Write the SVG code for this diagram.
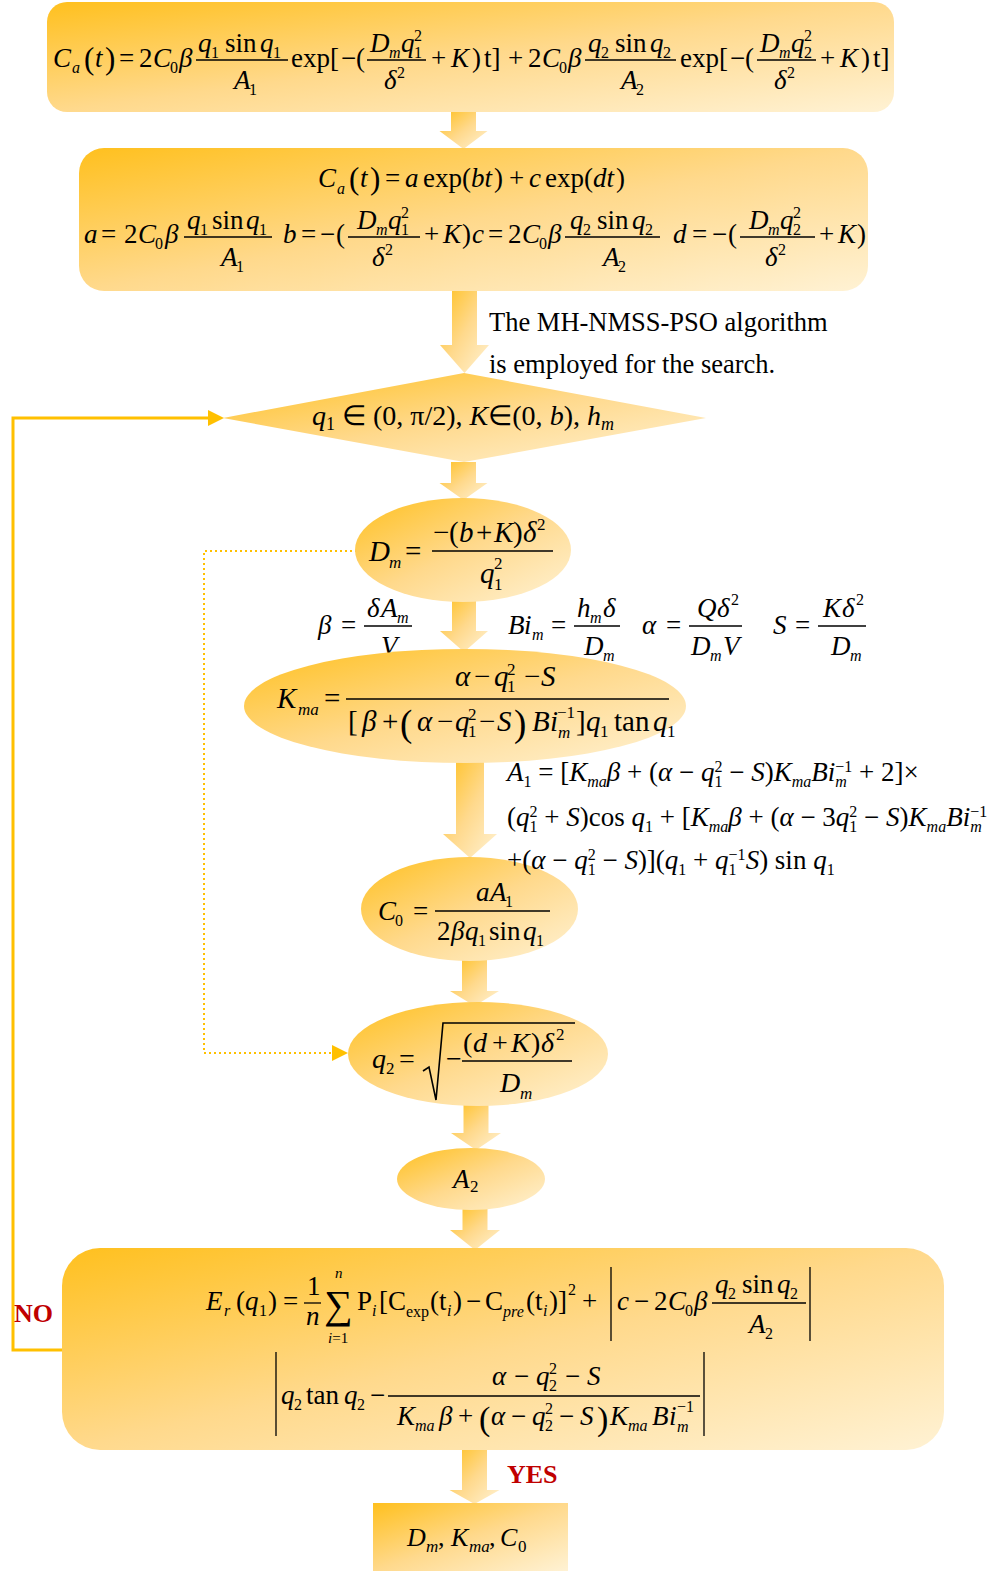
<svg xmlns="http://www.w3.org/2000/svg" width="1000" height="1571" viewBox="0 0 1000 1571">
<defs>
<linearGradient id="g" x1="0" y1="0" x2="1" y2="1">
<stop offset="0" stop-color="#FFC01E"/>
<stop offset="0.5" stop-color="#FFD98C"/>
<stop offset="1" stop-color="#FFF2D4"/>
</linearGradient>
<style>
.m{font-family:"Liberation Serif","Times New Roman",serif;font-size:27px;fill:#000;white-space:pre}
.k{font-size:28px}
.l{font-size:29px}
.s{font-size:16px}
.ls{font-size:17px}
.i{font-style:italic}
.bar{stroke:#000;stroke-width:1.3;fill:none}
.node{fill:url(#g)}
.arr{fill:url(#g)}
.lbl{font-family:"Liberation Serif","Times New Roman",serif;font-weight:bold;fill:#C00000;font-size:26px}
</style>
</defs>
<rect width="1000" height="1571" fill="#FFFFFF"/>

<g id="connectors">
<path class="arr" d="M451,112 H476 V131 H487.5 L463.5,149 L439.5,131 H451 Z"/>
<path class="arr" d="M452,291 H477 V345 H489 L464.5,373 L440,345 H452 Z"/>
<path class="arr" d="M451,462 H476 V483 H487.5 L463.5,500 L439.5,483 H451 Z"/>
<path class="arr" d="M452,600 H476 V631 H488 L464,652 L440,631 H452 Z"/>
<path class="arr" d="M456,762 H484 V834 H497 L470,858 L443,834 H456 Z"/>
<path class="arr" d="M462,960 H487 V991 H499 L474.5,1006 L450,991 H462 Z"/>
<path class="arr" d="M463.5,1105 H488.5 V1133 H501 L476,1150 L451,1133 H463.5 Z"/>
<path class="arr" d="M462.5,1209 H487.5 V1230 H500 L475,1250 L450,1230 H462.5 Z"/>
<path class="arr" d="M462,1449 H487 V1490 H499.5 L474.5,1504 L449.5,1490 H462 Z"/>
<path d="M62,1350 H13 V418 H210" fill="none" stroke="#FFC000" stroke-width="3"/>
<path d="M208,410 L224,418 L208,426 Z" fill="#FFC000"/>
<path d="M357,551 H204 V1053 H333" fill="none" stroke="#FFC000" stroke-width="2" stroke-dasharray="2,3"/>
<path d="M332,1045 L348,1053 L332,1061 Z" fill="#FFC000"/>
</g>

<g id="params">
<text class="m i" x="318" y="634">β</text>
<text class="m" x="341" y="634">=</text>
<line class="bar" x1="364" y1="626" x2="412" y2="626"/>
<text class="m i" x="367" y="617">δ</text>
<text class="m i" x="381" y="617">A</text>
<text class="m s i" x="397" y="623">m</text>
<text class="m i" x="381" y="655">V</text>
<text class="m i" x="508" y="634">B</text>
<text class="m i" x="524" y="634">i</text>
<text class="m s i" x="532" y="640">m</text>
<text class="m" x="551" y="634">=</text>
<line class="bar" x1="574" y1="626" x2="620" y2="626"/>
<text class="m i" x="577" y="617">h</text>
<text class="m s i" x="590" y="623">m</text>
<text class="m i" x="603" y="617">δ</text>
<text class="m i" x="584" y="655">D</text>
<text class="m s i" x="603" y="661">m</text>
<text class="m i" x="642" y="634">α</text>
<text class="m" x="666" y="634">=</text>
<line class="bar" x1="689" y1="626" x2="742" y2="626"/>
<text class="m i" x="697" y="617">Q</text>
<text class="m i" x="717" y="617">δ</text>
<text class="m s" x="731" y="605">2</text>
<text class="m i" x="691" y="655">D</text>
<text class="m s i" x="710" y="661">m</text>
<text class="m i" x="723" y="655">V</text>
<text class="m i" x="773" y="634">S</text>
<text class="m" x="795" y="634">=</text>
<line class="bar" x1="818" y1="626" x2="866" y2="626"/>
<text class="m i" x="823" y="617">K</text>
<text class="m i" x="842" y="617">δ</text>
<text class="m s" x="856" y="605">2</text>
<text class="m i" x="831" y="655">D</text>
<text class="m s i" x="850" y="661">m</text>
</g>

<g id="n1">
<rect class="node" x="47" y="2" width="847" height="110" rx="20"/>
<text class="m i" x="53" y="67">C</text>
<text class="m s i" x="72" y="73">a</text>
<text class="m" x="84" y="69" style="font-size:31px">(</text>
<text class="m i" x="95" y="67">t</text>
<text class="m" x="105" y="69" style="font-size:31px">)</text>
<text class="m" x="119" y="67">=</text>
<text class="m" x="139" y="67">2</text>
<text class="m i" x="153" y="67">C</text>
<text class="m s" x="170" y="73">0</text>
<text class="m i" x="179" y="67">β</text>
<line class="bar" x1="196" y1="60" x2="288" y2="60"/>
<text class="m i" x="198" y="52">q</text>
<text class="m s" x="211" y="58">1</text>
<text class="m" x="225" y="52">sin</text>
<text class="m i" x="260" y="52">q</text>
<text class="m s" x="273" y="58">1</text>
<text class="m i" x="234" y="89">A</text>
<text class="m s" x="249" y="95">1</text>
<text class="m" x="291" y="67">exp[</text>
<text class="m" x="341" y="67">−</text>
<text class="m" x="356" y="67">(</text>
<line class="bar" x1="367" y1="60" x2="426" y2="60"/>
<text class="m i" x="370" y="52">D</text>
<text class="m s i" x="389" y="58">m</text>
<text class="m i" x="401" y="52">q</text>
<text class="m s" x="414" y="58">1</text>
<text class="m s" x="414" y="41">2</text>
<text class="m i" x="384" y="89">δ</text>
<text class="m s" x="397" y="78">2</text>
<text class="m" x="431" y="67">+</text>
<text class="m i" x="451" y="67">K</text>
<text class="m" x="472" y="67">)</text>
<text class="m" x="484" y="67">t]</text>
<text class="m" x="508" y="67">+</text>
<text class="m" x="528" y="67">2</text>
<text class="m i" x="542" y="67">C</text>
<text class="m s" x="559" y="73">0</text>
<text class="m i" x="568" y="67">β</text>
<line class="bar" x1="585" y1="60" x2="676" y2="60"/>
<text class="m i" x="588" y="52">q</text>
<text class="m s" x="601" y="58">2</text>
<text class="m" x="615" y="52">sin</text>
<text class="m i" x="650" y="52">q</text>
<text class="m s" x="663" y="58">2</text>
<text class="m i" x="621" y="89">A</text>
<text class="m s" x="636" y="95">2</text>
<text class="m" x="680" y="67">exp[</text>
<text class="m" x="730" y="67">−</text>
<text class="m" x="745" y="67">(</text>
<line class="bar" x1="757" y1="60" x2="816" y2="60"/>
<text class="m i" x="760" y="52">D</text>
<text class="m s i" x="779" y="58">m</text>
<text class="m i" x="791" y="52">q</text>
<text class="m s" x="804" y="58">2</text>
<text class="m s" x="804" y="41">2</text>
<text class="m i" x="774" y="89">δ</text>
<text class="m s" x="787" y="78">2</text>
<text class="m" x="820" y="67">+</text>
<text class="m i" x="840" y="67">K</text>
<text class="m" x="861" y="67">)</text>
<text class="m" x="873" y="67">t]</text>
</g>

<g id="n2">
<rect class="node" x="79" y="148" width="789" height="143" rx="25"/>
<text class="m i" x="318" y="187">C</text>
<text class="m s i" x="337" y="194">a</text>
<text class="m" x="349" y="189" style="font-size:31px">(</text>
<text class="m i" x="360" y="187">t</text>
<text class="m" x="370" y="189" style="font-size:31px">)</text>
<text class="m" x="385" y="187">=</text>
<text class="m i" x="405" y="187">a</text>
<text class="m" x="423" y="187">exp(</text>
<text class="m i" x="471" y="187">bt</text>
<text class="m" x="494" y="187">)</text>
<text class="m" x="509" y="187">+</text>
<text class="m i" x="529" y="187">c</text>
<text class="m" x="545" y="187">exp(</text>
<text class="m i" x="593" y="187">dt</text>
<text class="m" x="616" y="187">)</text>
<text class="m i" x="84" y="243">a</text>
<text class="m" x="101" y="243">=</text>
<text class="m" x="124" y="243">2</text>
<text class="m i" x="138" y="243">C</text>
<text class="m s" x="155" y="249">0</text>
<text class="m i" x="165" y="243">β</text>
<line class="bar" x1="184" y1="237" x2="272" y2="237"/>
<text class="m i" x="187" y="229">q</text>
<text class="m s" x="200" y="235">1</text>
<text class="m" x="212" y="229">sin</text>
<text class="m i" x="246" y="229">q</text>
<text class="m s" x="259" y="235">1</text>
<text class="m i" x="221" y="266">A</text>
<text class="m s" x="236" y="272">1</text>
<text class="m i" x="283" y="243">b</text>
<text class="m" x="301" y="243">=</text>
<text class="m" x="320" y="243">−</text>
<text class="m" x="336" y="243">(</text>
<line class="bar" x1="348" y1="237" x2="420" y2="237"/>
<text class="m i" x="357" y="229">D</text>
<text class="m s i" x="376" y="235">m</text>
<text class="m i" x="388" y="229">q</text>
<text class="m s" x="401" y="235">1</text>
<text class="m s" x="401" y="218">2</text>
<text class="m i" x="372" y="266">δ</text>
<text class="m s" x="385" y="255">2</text>
<text class="m" x="424" y="243">+</text>
<text class="m i" x="443" y="243">K</text>
<text class="m" x="462" y="243">)</text>
<text class="m i" x="472" y="243">c</text>
<text class="m" x="488" y="243">=</text>
<text class="m" x="508" y="243">2</text>
<text class="m i" x="522" y="243">C</text>
<text class="m s" x="539" y="249">0</text>
<text class="m i" x="548" y="243">β</text>
<line class="bar" x1="565" y1="237" x2="660" y2="237"/>
<text class="m i" x="570" y="229">q</text>
<text class="m s" x="583" y="235">2</text>
<text class="m" x="597" y="229">sin</text>
<text class="m i" x="632" y="229">q</text>
<text class="m s" x="645" y="235">2</text>
<text class="m i" x="603" y="266">A</text>
<text class="m s" x="618" y="272">2</text>
<text class="m i" x="673" y="243">d</text>
<text class="m" x="692" y="243">=</text>
<text class="m" x="712" y="243">−</text>
<text class="m" x="728" y="243">(</text>
<line class="bar" x1="740" y1="237" x2="815" y2="237"/>
<text class="m i" x="749" y="229">D</text>
<text class="m s i" x="768" y="235">m</text>
<text class="m i" x="780" y="229">q</text>
<text class="m s" x="793" y="235">2</text>
<text class="m s" x="793" y="218">2</text>
<text class="m i" x="765" y="266">δ</text>
<text class="m s" x="778" y="255">2</text>
<text class="m" x="819" y="243">+</text>
<text class="m i" x="838" y="243">K</text>
<text class="m" x="857" y="243">)</text>
</g>

<g id="n3">
<path class="node" d="M464,373 L706,418 L464,462 L223,418 Z"/>
<text class="m" x="463" y="425" text-anchor="middle" style="font-size:28px"><tspan class="i">q</tspan><tspan style="font-size:18px" dy="5">1</tspan><tspan dy="-5"> ∈ (0, π/2), </tspan><tspan class="i">K</tspan><tspan>∈(0, </tspan><tspan class="i">b</tspan><tspan>), </tspan><tspan class="i">h</tspan><tspan class="i" style="font-size:18px" dy="5">m</tspan></text>
</g>

<g id="n4">
<ellipse class="node" cx="463" cy="550" rx="108" ry="52"/>
<text class="m l i" x="369" y="561">D</text>
<text class="m ls i" x="389" y="568">m</text>
<text class="m l" x="405" y="561">=</text>
<line class="bar" x1="432" y1="551" x2="553" y2="551"/>
<text class="m l" x="433" y="542">−</text>
<text class="m l" x="449" y="542">(</text>
<text class="m l i" x="459" y="542">b</text>
<text class="m l" x="476" y="542">+</text>
<text class="m l i" x="494" y="542">K</text>
<text class="m l" x="513" y="542">)</text>
<text class="m l i" x="523" y="542">δ</text>
<text class="m ls" x="537" y="530">2</text>
<text class="m l i" x="480" y="583">q</text>
<text class="m ls" x="494" y="590">1</text>
<text class="m ls" x="494" y="569">2</text>
</g>

<g id="n5">
<ellipse class="node" cx="465" cy="706" rx="221" ry="57"/>
<text class="m l i" x="277" y="708">K</text>
<text class="m ls i" x="298" y="715">ma</text>
<text class="m l" x="324" y="708">=</text>
<line class="bar" x1="346" y1="699" x2="669" y2="699"/>
<text class="m l i" x="455" y="686">α</text>
<text class="m l" x="474" y="686">−</text>
<text class="m l i" x="494" y="686">q</text>
<text class="m ls" x="507" y="692">1</text>
<text class="m ls" x="507" y="675">2</text>
<text class="m l" x="524" y="686">−</text>
<text class="m l i" x="541" y="686">S</text>
<text class="m l" x="348" y="731">[</text>
<text class="m l i" x="362" y="731">β</text>
<text class="m l" x="382" y="731">+</text>
<text class="m l" x="400" y="736" style="font-size:37px">(</text>
<text class="m l i" x="417" y="731">α</text>
<text class="m l" x="437" y="731">−</text>
<text class="m l i" x="455" y="731">q</text>
<text class="m ls" x="468" y="737">1</text>
<text class="m ls" x="468" y="720">2</text>
<text class="m l" x="479" y="731">−</text>
<text class="m l i" x="497" y="731">S</text>
<text class="m l" x="514" y="736" style="font-size:37px">)</text>
<text class="m l i" x="532" y="731">B</text>
<text class="m l i" x="550" y="731">i</text>
<text class="m ls" x="557" y="718">−1</text>
<text class="m ls i" x="558" y="738">m</text>
<text class="m l" x="576" y="731">]</text>
<text class="m l i" x="586" y="731">q</text>
<text class="m ls" x="600" y="737">1</text>
<text class="m l" x="614" y="731">tan</text>
<text class="m l i" x="653" y="731">q</text>
<text class="m ls" x="667" y="737">1</text>
</g>

<g id="n6">
<ellipse class="node" cx="469.5" cy="909" rx="108.5" ry="52"/>
<text class="m i" x="378" y="920">C</text>
<text class="m s" x="395" y="926">0</text>
<text class="m" x="413" y="920">=</text>
<line class="bar" x1="435" y1="911" x2="550" y2="911"/>
<text class="m i" x="476" y="901">a</text>
<text class="m i" x="490" y="901">A</text>
<text class="m s" x="505" y="907">1</text>
<text class="m" x="437" y="940">2</text>
<text class="m i" x="451" y="940">β</text>
<text class="m i" x="465" y="940">q</text>
<text class="m s" x="478" y="946">1</text>
<text class="m" x="489" y="940">sin</text>
<text class="m i" x="523" y="940">q</text>
<text class="m s" x="536" y="946">1</text>
</g>

<g id="n7">
<ellipse class="node" cx="478" cy="1054" rx="130" ry="52"/>
<text class="m k i" x="372" y="1068">q</text>
<text class="m ls" x="386" y="1074">2</text>
<text class="m k" x="399" y="1068">=</text>
<path d="M423,1071 L429,1067 L436,1100 L443,1023 H575" fill="none" stroke="#000" stroke-width="1.6"/>
<text class="m k" x="446" y="1068">−</text>
<line class="bar" x1="462" y1="1061" x2="572" y2="1061"/>
<text class="m k" x="463" y="1052">(</text>
<text class="m k i" x="473" y="1052">d</text>
<text class="m k" x="492" y="1052">+</text>
<text class="m k i" x="511" y="1052">K</text>
<text class="m k" x="531" y="1052">)</text>
<text class="m k i" x="541" y="1052">δ</text>
<text class="m ls" x="556" y="1040">2</text>
<text class="m k i" x="500" y="1092">D</text>
<text class="m ls i" x="520" y="1099">m</text>
</g>

<g id="n8">
<ellipse class="node" cx="471" cy="1179" rx="74" ry="31"/>
<text class="m i" x="453" y="1188">A</text>
<text class="m ls" x="470" y="1192">2</text>
</g>

<g id="n9">
<rect class="node" x="62" y="1248" width="882" height="202" rx="38"/>
<text class="m i" x="206" y="1310">E</text>
<text class="m s i" x="224" y="1316">r</text>
<text class="m" x="236" y="1310">(</text>
<text class="m i" x="245" y="1310">q</text>
<text class="m s" x="259" y="1316">1</text>
<text class="m" x="268" y="1310">)</text>
<text class="m" x="283" y="1310">=</text>
<line class="bar" x1="304" y1="1303" x2="321" y2="1303"/>
<text class="m" x="307" y="1295">1</text>
<text class="m i" x="306" y="1325">n</text>
<text class="m" x="324" y="1318" style="font-size:40px">∑</text>
<text class="m i" x="335" y="1278" style="font-size:15px">n</text>
<text class="m" x="328" y="1343" style="font-size:15px"><tspan class="i">i</tspan>=1</text>
<text class="m" x="357" y="1310">P</text>
<text class="m s i" x="372" y="1316">i</text>
<text class="m" x="379" y="1310">[C</text>
<text class="m s" x="406" y="1317">exp</text>
<text class="m" x="430" y="1310">(t</text>
<text class="m s i" x="447" y="1316">i</text>
<text class="m" x="453" y="1310">)</text>
<text class="m" x="466" y="1310">−</text>
<text class="m" x="485" y="1310">C</text>
<text class="m s i" x="503" y="1317">pre</text>
<text class="m" x="526" y="1310">(t</text>
<text class="m s i" x="543" y="1316">i</text>
<text class="m" x="549" y="1310">)]</text>
<text class="m s" x="568" y="1295">2</text>
<text class="m" x="582" y="1310">+</text>
<line class="bar" x1="611" y1="1267" x2="611" y2="1341"/>
<text class="m i" x="617" y="1310">c</text>
<text class="m" x="634" y="1310">−</text>
<text class="m" x="654" y="1310">2</text>
<text class="m i" x="668" y="1310">C</text>
<text class="m s" x="685" y="1316">0</text>
<text class="m i" x="694" y="1310">β</text>
<line class="bar" x1="712" y1="1303" x2="806" y2="1303"/>
<text class="m i" x="715" y="1293">q</text>
<text class="m s" x="728" y="1299">2</text>
<text class="m" x="742" y="1293">sin</text>
<text class="m i" x="777" y="1293">q</text>
<text class="m s" x="790" y="1299">2</text>
<text class="m i" x="749" y="1333">A</text>
<text class="m s" x="765" y="1339">2</text>
<line class="bar" x1="810" y1="1267" x2="810" y2="1341"/>
<line class="bar" x1="276" y1="1352" x2="276" y2="1436"/>
<text class="m i" x="281" y="1404">q</text>
<text class="m s" x="294" y="1410">2</text>
<text class="m" x="306" y="1404">tan</text>
<text class="m i" x="344" y="1404">q</text>
<text class="m s" x="357" y="1410">2</text>
<text class="m" x="370" y="1404">−</text>
<line class="bar" x1="388" y1="1396" x2="700" y2="1396"/>
<text class="m i" x="492" y="1385">α</text>
<text class="m" x="514" y="1385">−</text>
<text class="m i" x="536" y="1385">q</text>
<text class="m s" x="549" y="1391">2</text>
<text class="m s" x="549" y="1374">2</text>
<text class="m" x="565" y="1385">−</text>
<text class="m i" x="587" y="1385">S</text>
<text class="m i" x="397" y="1425">K</text>
<text class="m s i" x="415" y="1431">ma</text>
<text class="m i" x="439" y="1425">β</text>
<text class="m" x="458" y="1425">+</text>
<text class="m" x="479" y="1430" style="font-size:34px">(</text>
<text class="m i" x="491" y="1425">α</text>
<text class="m" x="511" y="1425">−</text>
<text class="m i" x="532" y="1425">q</text>
<text class="m s" x="545" y="1431">2</text>
<text class="m s" x="545" y="1414">2</text>
<text class="m" x="559" y="1425">−</text>
<text class="m i" x="580" y="1425">S</text>
<text class="m" x="597" y="1430" style="font-size:34px">)</text>
<text class="m i" x="610" y="1425">K</text>
<text class="m s i" x="628" y="1431">ma</text>
<text class="m i" x="652" y="1425">B</text>
<text class="m i" x="669" y="1425">i</text>
<text class="m s" x="677" y="1412">−1</text>
<text class="m s i" x="677" y="1432">m</text>
<line class="bar" x1="704" y1="1352" x2="704" y2="1436"/>
</g>

<g id="n10">
<rect class="node" x="373" y="1503" width="195" height="68"/>
<text class="m i" x="407" y="1546" style="font-size:26px">D</text>
<text class="m ls i" x="426" y="1552">m</text>
<text class="m" x="438" y="1546" style="font-size:26px">,</text>
<text class="m i" x="451" y="1546" style="font-size:26px">K</text>
<text class="m ls i" x="469" y="1552">ma</text>
<text class="m" x="489" y="1546" style="font-size:26px">,</text>
<text class="m i" x="500" y="1546" style="font-size:26px">C</text>
<text class="m ls" x="518" y="1552">0</text>
</g>

<g id="labels">
<text class="m" x="489" y="331" style="font-size:26.5px">The MH-NMSS-PSO algorithm</text>
<text class="m" x="489" y="373" style="font-size:26.5px">is employed for the search.</text>
<text class="lbl" x="14" y="1322">NO</text>
<text class="lbl" x="507" y="1483">YES</text>
<text class="m" x="507" y="781"><tspan class="i">A</tspan><tspan class="s" dy="6">1</tspan><tspan dy="-6"> = [</tspan><tspan class="i">K</tspan><tspan class="s i" dy="6">ma</tspan><tspan class="i" dy="-6">β</tspan><tspan> + (</tspan><tspan class="i">α</tspan><tspan> − </tspan><tspan class="i">q</tspan><tspan class="s" dy="6">1</tspan><tspan class="s" dx="-8" dy="-15">2</tspan><tspan dy="9"> − </tspan><tspan class="i">S</tspan><tspan>)</tspan><tspan class="i">K</tspan><tspan class="s i" dy="6">ma</tspan><tspan class="i" dy="-6">Bi</tspan><tspan class="s i" dy="6">m</tspan><tspan class="s" dx="-11.5" dy="-15">−1</tspan><tspan dy="9"> + 2]×</tspan></text>
<text class="m" x="507" y="826"><tspan>(</tspan><tspan class="i">q</tspan><tspan class="s" dy="6">1</tspan><tspan class="s" dx="-8" dy="-15">2</tspan><tspan dy="9"> + </tspan><tspan class="i">S</tspan><tspan>)cos </tspan><tspan class="i">q</tspan><tspan class="s" dy="6">1</tspan><tspan dy="-6"> + [</tspan><tspan class="i">K</tspan><tspan class="s i" dy="6">ma</tspan><tspan class="i" dy="-6">β</tspan><tspan> + (</tspan><tspan class="i">α</tspan><tspan> − 3</tspan><tspan class="i">q</tspan><tspan class="s" dy="6">1</tspan><tspan class="s" dx="-8" dy="-15">2</tspan><tspan dy="9"> − </tspan><tspan class="i">S</tspan><tspan>)</tspan><tspan class="i">K</tspan><tspan class="s i" dy="6">ma</tspan><tspan class="i" dy="-6">Bi</tspan><tspan class="s i" dy="6">m</tspan><tspan class="s" dx="-11.5" dy="-15">−1</tspan></text>
<text class="m" x="507" y="869"><tspan>+(</tspan><tspan class="i">α</tspan><tspan> − </tspan><tspan class="i">q</tspan><tspan class="s" dy="6">1</tspan><tspan class="s" dx="-8" dy="-15">2</tspan><tspan dy="9"> − </tspan><tspan class="i">S</tspan><tspan>)](</tspan><tspan class="i">q</tspan><tspan class="s" dy="6">1</tspan><tspan dy="-6"> + </tspan><tspan class="i">q</tspan><tspan class="s" dy="6">1</tspan><tspan class="s" dx="-8" dy="-15">−1</tspan><tspan class="i" dy="9">S</tspan><tspan>) sin </tspan><tspan class="i">q</tspan><tspan class="s" dy="6">1</tspan></text>
</g>
</svg>
